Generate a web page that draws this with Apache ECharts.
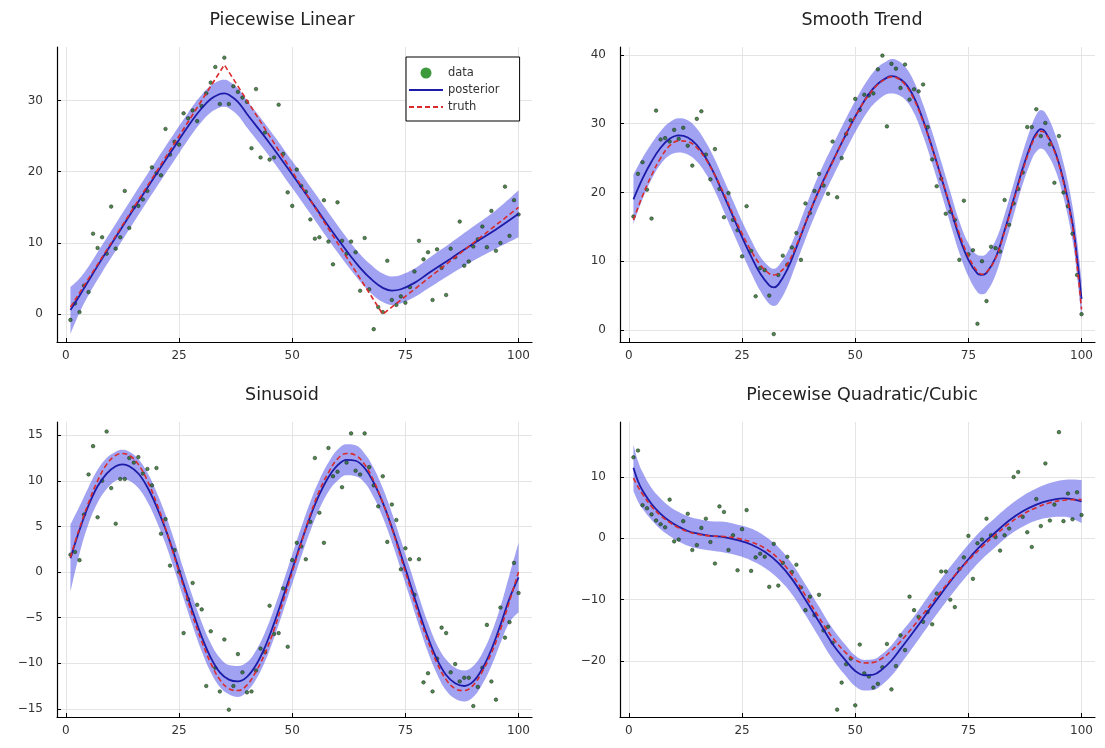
<!DOCTYPE html>
<html>
<head>
<meta charset="utf-8">
<script src="https://cdn.jsdelivr.net/npm/echarts@6/dist/echarts.min.js"></script>
<style>
  html, body { margin: 0; background: #fff; }
  #main { width: 1105px; height: 748px; }
</style>
</head>
<body>
<div id="main"></div>
<script>
// observation positions 1..100 (shared by all four panels)
var obsX = [];
for (var i = 1; i <= 100; i++) obsX.push(i);

var xTicks = [0, 25, 50, 75, 100];

// ---- Piecewise Linear ----
var linObs = [-0.8, 1.5, 0.3, 4.0, 3.1, 11.3, 9.3, 10.8, 8.5, 15.1,
  9.2, 10.8, 17.3, 12.1, 15.0, 15.2, 16.1, 17.3, 20.6, 19.8,
  19.5, 26.0, 22.4, 24.2, 23.8, 28.2, 27.5, 28.6, 27.1, 29.2,
  31.0, 32.5, 34.7, 29.5, 36.0, 29.5, 32.0, 31.2, 30.4, 29.8,
  23.3, 31.6, 22.0, 25.5, 21.7, 22.0, 29.4, 22.5, 17.1, 15.2,
  20.3, 18.0, 17.2, 13.3, 10.6, 10.8, 16.0, 10.2, 7.0, 15.7,
  10.3, 8.5, 10.2, 8.7, 3.3, 10.7, 3.5, -2.1, 1.0, 0.3,
  7.5, 2.0, 1.3, 2.5, 1.6, 3.8, 6.0, 10.3, 7.7, 8.7,
  2.0, 9.1, 6.5, 2.7, 9.2, 8.0, 13.0, 6.8, 7.4, 9.5,
  10.5, 12.3, 9.4, 14.5, 8.9, 10.0, 17.9, 11.0, 16.0, 14.0];
var linCurveX = [1, 3, 5, 8, 11, 15, 20, 25, 28, 30, 32, 34, 35, 36, 38, 40, 45, 50, 55, 60, 65, 68, 70, 72, 74, 77, 80, 85, 90, 95, 100];
var linPost = [0.6, 2.6, 4.7, 7.8, 10.8, 14.8, 19.7, 24.5, 27.3, 28.9, 30.2, 30.9, 31.0, 30.8, 29.8, 28.1, 24.0, 19.6, 15.1, 10.6, 6.5, 4.6, 3.7, 3.3, 3.5, 4.4, 5.7, 7.8, 9.9, 11.9, 14.1];
var linLo = [-2.8, 0.2, 2.7, 5.9, 8.9, 12.9, 17.8, 22.6, 25.4, 27.0, 28.3, 29.0, 29.1, 28.9, 27.9, 26.2, 22.1, 17.7, 13.2, 8.7, 4.6, 2.6, 1.7, 1.3, 1.5, 2.4, 3.6, 5.6, 7.5, 9.2, 10.8];
var linHi = [3.8, 5.0, 6.7, 9.7, 12.7, 16.7, 21.6, 26.4, 29.2, 30.8, 32.1, 32.8, 32.9, 32.7, 31.7, 30.0, 25.9, 21.5, 17.0, 12.5, 8.4, 6.6, 5.7, 5.3, 5.5, 6.4, 7.8, 10.0, 12.3, 14.6, 17.4];
var linTruthX = [1, 35, 70, 100];
var linTruth = [1, 35, 0, 15];

// ---- Smooth Trend ----
var smoObs = [16.5, 22.7, 24.4, 20.4, 16.2, 31.9, 27.7, 27.9, 27.4, 29.1,
  27.8, 29.4, 26.8, 23.9, 30.7, 31.8, 25.5, 21.9, 26.3, 20.5,
  16.4, 19.9, 16.0, 14.5, 10.7, 18.0, 11.5, 4.9, 9.0, 8.7,
  5.0, -0.6, 8.0, 10.8, 9.5, 12.0, 14.1, 10.2, 18.4, 17.0,
  20.2, 22.7, 21.0, 19.8, 27.4, 19.3, 25.0, 28.5, 30.5, 33.6,
  32.0, 34.2, 34.1, 34.4, 37.9, 39.9, 29.6, 38.7, 38.0, 35.2,
  38.6, 33.5, 35.0, 34.7, 35.7, 29.5, 24.8, 20.9, 22.0, 16.9,
  17.2, 16.0, 10.2, 18.8, 11.0, 11.6, 0.9, 10.0, 4.2, 12.1,
  11.9, 11.4, 18.9, 15.3, 18.4, 20.5, 22.9, 29.5, 29.5, 32.1,
  28.2, 30.1, 27.0, 21.4, 28.2, 20.0, 18.0, 14.0, 8.0, 2.3];
var smoCurveX = [1, 3, 5, 7, 9, 11, 13, 15, 17, 19, 21, 23, 25, 27, 29, 31, 32, 33, 35, 37, 39, 41, 43, 45, 47, 49, 51, 53, 55, 57, 58, 59, 61, 63, 65, 67, 69, 71, 73, 75, 77, 78, 79, 81, 83, 85, 87, 89, 90, 91, 92, 94, 96, 98, 99, 100];
var smoPost = [19.0, 22.0, 24.5, 26.5, 27.8, 28.3, 28.0, 26.9, 25.0, 22.5, 19.5, 16.5, 13.5, 10.7, 8.2, 6.5, 6.2, 6.6, 8.8, 12.0, 15.5, 18.8, 21.8, 24.5, 27.2, 29.8, 32.2, 34.3, 35.8, 36.7, 36.9, 36.8, 35.9, 33.8, 30.5, 26.5, 22.2, 17.8, 13.5, 10.2, 8.2, 8.0, 8.3, 10.5, 14.5, 19.0, 23.5, 27.3, 28.6, 29.2, 28.8, 26.2, 21.8, 15.5, 10.5, 4.5];
var smoLo = [15.4, 19.0, 21.9, 24.1, 25.4, 25.8, 25.5, 24.5, 22.7, 20.2, 17.2, 14.2, 11.2, 8.3, 5.7, 3.8, 3.5, 3.9, 6.3, 9.7, 13.2, 16.5, 19.5, 22.2, 24.9, 27.5, 29.9, 32.0, 33.4, 34.3, 34.4, 34.3, 33.5, 31.5, 28.2, 24.2, 19.9, 15.5, 11.2, 7.8, 5.5, 5.2, 5.5, 8.0, 12.2, 16.7, 21.2, 24.8, 25.9, 26.4, 26.0, 23.6, 19.3, 13.0, 7.9, 1.7];
var smoHi = [22.6, 25.0, 27.1, 28.9, 30.2, 30.8, 30.5, 29.3, 27.3, 24.8, 21.8, 18.8, 15.8, 13.1, 10.7, 9.2, 8.9, 9.3, 11.3, 14.3, 17.8, 21.1, 24.1, 26.8, 29.5, 32.1, 34.5, 36.6, 38.2, 39.1, 39.4, 39.3, 38.3, 36.1, 32.8, 28.8, 24.5, 20.1, 15.8, 12.6, 10.9, 10.8, 11.1, 13.0, 16.8, 21.3, 25.8, 29.8, 31.3, 32.0, 31.6, 28.8, 24.3, 18.0, 13.1, 7.3];
var smoTruth = [16.0, 19.5, 22.5, 25.0, 26.8, 27.5, 27.4, 26.5, 24.8, 22.5, 19.8, 16.8, 14.0, 11.5, 9.5, 8.2, 8.0, 8.2, 9.6, 12.3, 15.6, 18.8, 21.6, 24.4, 27.2, 29.8, 32.2, 34.2, 35.7, 36.6, 36.8, 36.7, 35.7, 33.5, 30.3, 26.4, 22.2, 18.0, 14.0, 10.7, 8.5, 8.1, 8.4, 10.4, 14.3, 18.8, 23.2, 27.0, 28.3, 28.9, 28.6, 26.0, 21.5, 15.0, 9.5, 3.0];

// ---- Sinusoid ----
var sinObs = [1.9, 2.2, 1.3, 6.3, 10.7, 13.8, 6.0, 10.0, 15.4, 9.2,
  5.3, 10.2, 10.2, 12.5, 12.0, 12.6, 10.8, 11.3, 9.5, 11.4,
  4.2, 5.8, 0.7, 2.4, 0.0, -6.7, -3.0, -1.2, -3.6, -4.1,
  -12.5, -6.5, -10.5, -13.1, -7.4, -15.1, -12.5, -9.0, -11.0, -13.2,
  -13.1, -10.8, -8.4, -8.8, -3.7, -6.8, -6.7, -1.8, -8.2, 1.3,
  3.2, 2.8, 1.4, 5.5, 12.5, 6.5, 3.2, 13.6, 10.5, 11.0,
  9.3, 12.0, 15.2, 11.1, 10.7, 15.2, 11.5, 9.5, 7.2, 10.5,
  3.3, 7.4, 5.7, 0.3, 2.6, 1.4, -2.5, 1.4, -12.1, -11.1,
  -13.1, -9.5, -6.1, -6.7, -11.0, -10.1, -12.0, -11.6, -11.6, -14.7,
  -12.6, -10.5, -5.8, -12.0, -14.0, -3.9, -7.2, -5.5, 1.0, -2.3];
var sinCurveX = [1, 3, 5, 7, 9, 11, 12.5, 14, 16, 18, 20, 22, 24, 26, 28, 30, 32, 34, 36, 38, 40, 42, 44, 46, 48, 50, 52, 54, 56, 58, 60, 62, 64, 66, 68, 70, 72, 74, 76, 78, 80, 82, 84, 86, 88, 90, 92, 94, 96, 98, 100];
var sinPost = [1.5, 4.6, 7.3, 9.4, 10.8, 11.6, 11.8, 11.6, 10.8, 9.3, 7.2, 4.7, 1.8, -1.3, -4.3, -7.1, -9.4, -11.0, -11.8, -12.0, -11.5, -10.2, -8.2, -5.6, -2.7, 0.3, 3.3, 6.1, 8.5, 10.4, 11.7, 12.3, 12.2, 11.4, 9.8, 7.6, 4.9, 1.9, -1.2, -4.3, -7.2, -9.6, -11.3, -12.2, -12.5, -12.0, -10.6, -8.5, -5.8, -2.9, -0.6];
var sinLo = [-2.2, 2.0, 5.3, 7.6, 9.1, 10.0, 10.2, 10.0, 9.2, 7.7, 5.6, 3.1, 0.2, -2.9, -5.9, -8.7, -11.0, -12.6, -13.4, -13.7, -13.1, -11.8, -9.8, -7.2, -4.3, -1.3, 1.7, 4.5, 6.9, 8.8, 10.0, 10.6, 10.5, 9.8, 8.2, 6.0, 3.3, 0.3, -2.8, -5.9, -8.8, -11.2, -13.0, -13.9, -14.2, -13.7, -12.3, -10.3, -7.8, -5.5, -4.4];
var sinHi = [5.2, 7.2, 9.3, 11.2, 12.5, 13.2, 13.4, 13.2, 12.4, 10.9, 8.8, 6.3, 3.4, 0.3, -2.7, -5.5, -7.8, -9.4, -10.2, -10.3, -9.9, -8.6, -6.6, -4.0, -1.1, 1.9, 4.9, 7.7, 10.1, 12.0, 13.4, 14.0, 13.9, 13.0, 11.4, 9.2, 6.5, 3.5, 0.4, -2.7, -5.6, -8.0, -9.6, -10.5, -10.8, -10.3, -8.9, -6.7, -3.8, -0.3, 3.2];
var sinTruth = [1.6, 4.8, 7.6, 10.0, 11.8, 12.8, 13.0, 12.8, 11.8, 10.0, 7.6, 4.8, 1.6, -1.6, -4.8, -7.6, -10.0, -11.8, -12.8, -13.0, -12.4, -10.9, -8.9, -6.3, -3.2, 0.0, 3.2, 6.3, 8.9, 10.9, 12.4, 13.0, 12.8, 11.8, 10.0, 7.6, 4.8, 1.6, -1.6, -4.8, -7.6, -10.0, -11.8, -12.8, -13.0, -12.4, -10.9, -8.9, -6.3, -3.2, 0.0];

// ---- Piecewise Quadratic/Cubic ----
var pqcObs = [13.2, 14.3, 5.4, 4.9, 3.9, 2.9, 2.3, 1.8, 6.3, -0.5,
  -0.2, 2.8, 4.0, -1.9, -1.1, 1.7, 3.2, -0.6, -4.1, 5.2,
  4.3, -1.9, 0.5, -5.2, 1.5, 4.6, -5.3, -3.1, -2.5, -3.0,
  -7.9, -0.9, -7.7, -4.0, -3.0, -5.5, -4.3, -8.0, -11.7, -9.5,
  -12.5, -9.2, -15.0, -14.4, -17.0, -27.9, -23.5, -20.5, -19.6, -27.2,
  -17.3, -22.0, -22.5, -24.3, -23.7, -21.0, -17.2, -24.6, -20.8, -15.8,
  -18.2, -9.5, -11.7, -12.8, -13.6, -12.0, -14.0, -9.0, -5.4, -5.4,
  -10.0, -11.2, -5.0, -3.1, 0.4, -6.6, -0.8, -0.2, 3.2, 0.5,
  0.2, -2.0, 0.5, 1.6, 10.0, 10.8, 3.5, 1.0, -1.4, 6.4,
  2.0, 12.2, 2.9, 5.5, 17.3, 2.8, 7.3, 3.1, 7.5, 3.8];
var pqcCurveX = [1, 2, 3, 5, 7, 9, 11, 13, 15, 18, 21, 24, 27, 30, 33, 36, 39, 42, 45, 48, 50, 52, 54, 56, 58, 60, 63, 66, 69, 72, 75, 78, 81, 84, 87, 90, 93, 96, 98, 100];
var pqcPost = [11.5, 9.3, 7.8, 5.6, 4.0, 2.8, 1.9, 1.2, 0.8, 0.4, 0.2, -0.3, -1.0, -2.2, -4.0, -6.6, -10.0, -13.6, -17.2, -20.0, -21.6, -22.3, -22.2, -21.3, -19.9, -18.0, -15.1, -12.0, -9.0, -6.1, -3.4, -1.0, 1.0, 2.9, 4.4, 5.5, 6.2, 6.5, 6.4, 6.0];
var pqcLo = [7.7, 6.0, 4.8, 3.0, 1.5, 0.4, -0.5, -1.2, -1.6, -2.0, -2.3, -2.8, -3.6, -4.8, -6.6, -9.1, -12.5, -16.1, -19.7, -22.5, -24.1, -24.8, -24.7, -23.8, -22.4, -20.5, -17.5, -14.4, -11.4, -8.5, -5.8, -3.4, -1.4, 0.5, 1.9, 2.9, 3.4, 3.5, 3.2, 2.5];
var pqcHi = [15.3, 12.6, 10.8, 8.2, 6.5, 5.2, 4.3, 3.6, 3.2, 2.8, 2.7, 2.2, 1.6, 0.4, -1.4, -4.1, -7.5, -11.1, -14.7, -17.5, -19.1, -19.8, -19.7, -18.8, -17.4, -15.5, -12.7, -9.6, -6.6, -3.7, -1.0, 1.4, 3.4, 5.3, 6.9, 8.1, 9.0, 9.5, 9.6, 9.5];
var pqcTruth = [9.8, 8.4, 7.2, 5.2, 3.7, 2.6, 1.7, 1.1, 0.7, 0.4, 0.3, 0.0, -0.6, -1.6, -3.3, -5.9, -9.3, -12.9, -16.2, -18.7, -19.8, -20.3, -20.2, -19.5, -18.3, -16.8, -14.2, -11.4, -8.6, -6.0, -3.6, -1.4, 0.6, 2.4, 3.9, 5.0, 5.8, 6.2, 6.3, 6.3];

var font = 'DejaVu Sans';

function pairs(xs, ys) {
  return xs.map(function (x, i) { return [x, ys[i]]; });
}
// value first, x second: keeps ECharts stacking on the y values
function flipped(xs, ys) {
  return xs.map(function (x, i) { return [ys[i], x]; });
}

function fmt(v) {
  return v < 0 ? '\u2212' + Math.abs(v) : String(v);
}

var panels = [
  { title: 'Piecewise Linear', cx: 282, ty: 11, grid: { left: 57, top: 47, width: 475, height: 295 },
    ymin: -3.9, ymax: 37.5, yTicks: [0, 10, 20, 30],
    obs: linObs, curveX: linCurveX, post: linPost, lo: linLo, hi: linHi,
    truthX: linTruthX, truth: linTruth, truthSmooth: false },
  { title: 'Smooth Trend', cx: 862, ty: 11, grid: { left: 620, top: 47, width: 475, height: 295 },
    ymin: -1.75, ymax: 41.15, yTicks: [0, 10, 20, 30, 40],
    obs: smoObs, curveX: smoCurveX, post: smoPost, lo: smoLo, hi: smoHi,
    truthX: smoCurveX, truth: smoTruth, truthSmooth: true },
  { title: 'Sinusoid', cx: 282, ty: 386, grid: { left: 57, top: 422, width: 475, height: 295 },
    ymin: -15.9, ymax: 16.45, yTicks: [-15, -10, -5, 0, 5, 10, 15],
    obs: sinObs, curveX: sinCurveX, post: sinPost, lo: sinLo, hi: sinHi,
    truthX: sinCurveX, truth: sinTruth, truthSmooth: true },
  { title: 'Piecewise Quadratic/Cubic', cx: 862, ty: 386, grid: { left: 620, top: 422, width: 475, height: 295 },
    ymin: -29.1, ymax: 18.95, yTicks: [-20, -10, 0, 10],
    obs: pqcObs, curveX: pqcCurveX, post: pqcPost, lo: pqcLo, hi: pqcHi,
    truthX: pqcCurveX, truth: pqcTruth, truthSmooth: true }
];

var titles = [], grids = [], xAxes = [], yAxes = [], series = [];

panels.forEach(function (p, k) {
  titles.push({
    text: p.title, left: p.cx, top: p.ty, textAlign: 'center', padding: 0,
    textStyle: { fontSize: 17.5, fontWeight: 'normal', color: '#222', fontFamily: font }
  });
  grids.push(p.grid);
  xAxes.push({
    type: 'value', gridIndex: k, min: -1.97, max: 102.97,
    axisLine: { onZero: false, lineStyle: { color: '#000', width: 1.2 } },
    axisTick: { inside: true, length: 4, customValues: xTicks, lineStyle: { color: '#000' } },
    axisLabel: { customValues: xTicks, margin: 8, fontSize: 12, color: '#333', fontFamily: font, formatter: fmt },
    splitLine: { show: true, lineStyle: { color: '#e4e4e4', width: 1 } }
  });
  yAxes.push({
    type: 'value', gridIndex: k, min: p.ymin, max: p.ymax,
    axisLine: { show: true, onZero: false, lineStyle: { color: '#000', width: 1.2 } },
    axisTick: { show: true, inside: true, length: 4, customValues: p.yTicks, lineStyle: { color: '#000' } },
    axisLabel: { customValues: p.yTicks, margin: 14, fontSize: 12, color: '#333', fontFamily: font, formatter: fmt },
    splitLine: { show: true, lineStyle: { color: '#e4e4e4', width: 1 } }
  });

  var width = p.hi.map(function (h, i) { return h - p.lo[i]; });
  series.push({
    name: 'band' + k, type: 'line', xAxisIndex: k, yAxisIndex: k,
    stack: 'band' + k, stackStrategy: 'all',
    data: flipped(p.curveX, p.lo), encode: { x: 1, y: 0 },
    symbol: 'none', smooth: 0.4, silent: true,
    lineStyle: { width: 0, opacity: 0 }, z: 1
  });
  series.push({
    name: 'band' + k, type: 'line', xAxisIndex: k, yAxisIndex: k,
    stack: 'band' + k, stackStrategy: 'all',
    data: flipped(p.curveX, width), encode: { x: 1, y: 0 },
    symbol: 'none', smooth: 0.4, silent: true,
    lineStyle: { width: 0, opacity: 0 },
    areaStyle: { color: 'rgba(70, 70, 230, 0.5)', opacity: 1 }, z: 1
  });
  series.push({
    name: 'data', type: 'scatter', xAxisIndex: k, yAxisIndex: k,
    data: pairs(obsX, p.obs), symbolSize: 3.6, silent: true,
    itemStyle: { color: '#1f6e1f', borderColor: '#1a1a1a', borderWidth: 0.6 }, z: 2
  });
  series.push({
    name: 'posterior', type: 'line', xAxisIndex: k, yAxisIndex: k,
    data: pairs(p.curveX, p.post), symbol: 'none', smooth: 0.4, silent: true,
    lineStyle: { color: '#1c1ca8', width: 1.8 }, itemStyle: { color: '#1c1ca8' }, z: 3
  });
  series.push({
    name: 'truth', type: 'line', xAxisIndex: k, yAxisIndex: k,
    data: pairs(p.truthX, p.truth), symbol: 'none', smooth: p.truthSmooth ? 0.4 : false, silent: true,
    lineStyle: { color: '#d92b2b', width: 1.6, type: [5, 3] }, itemStyle: { color: '#d92b2b' }, z: 4
  });
});

var chart = echarts.init(document.getElementById('main'));
chart.setOption({
  backgroundColor: '#fff',
  animation: false,
  title: titles,
  legend: {
    left: 406, top: 57, orient: 'vertical', selectedMode: false,
    data: [
      { name: 'data', icon: 'circle', itemStyle: { color: '#0b7f0b', borderWidth: 0 } },
      { name: 'posterior', itemStyle: { opacity: 0 } },
      { name: 'truth', itemStyle: { opacity: 0 } }
    ],
    itemWidth: 34, itemHeight: 11, itemGap: 5,
    padding: [10, 20, 8, 2],
    borderColor: '#000', borderWidth: 1, backgroundColor: '#fff',
    textStyle: { fontSize: 11.5, color: '#333', fontFamily: font }
  },
  grid: grids,
  xAxis: xAxes,
  yAxis: yAxes,
  series: series
});
</script>
</body>
</html>
